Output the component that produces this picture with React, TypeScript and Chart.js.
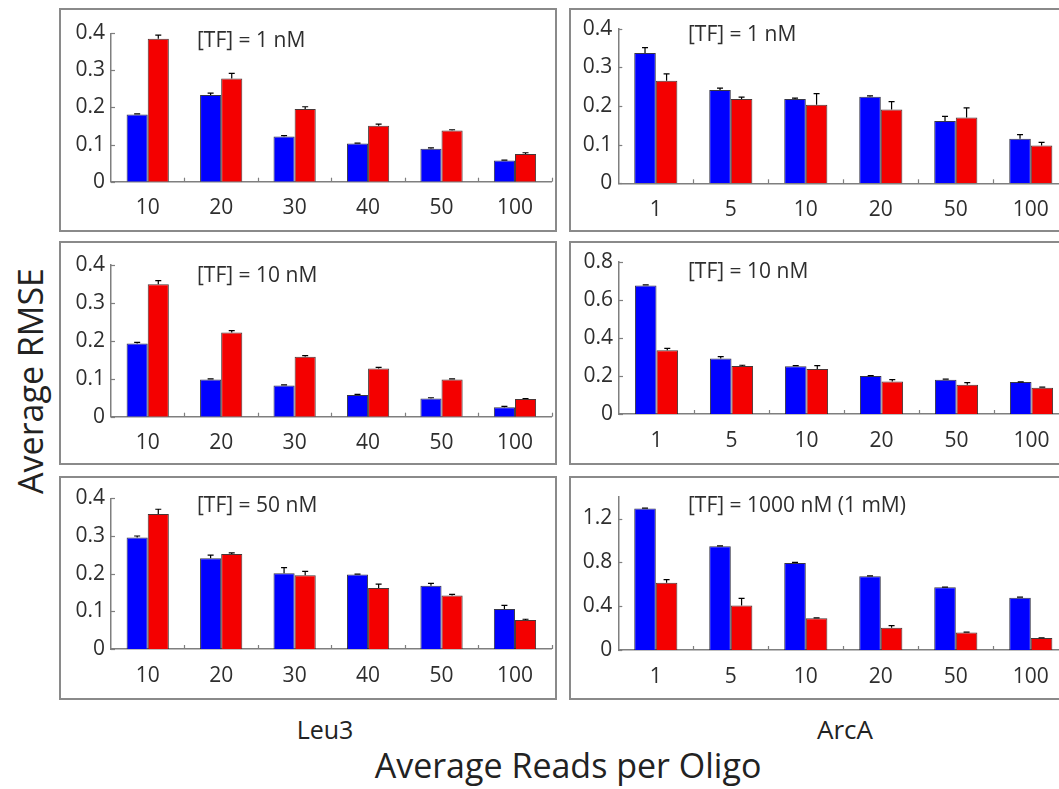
import { useEffect, useRef } from 'react';
import { Chart, registerables } from 'chart.js';

Chart.register(...registerables);

const FONT = '"Open Sans", "Noto Sans", sans-serif';
const TEXT = '#2e2e2e';
const AXIS = '#7f7f7f';
const FRAME = '#8a8a8a';
const BLUE = '#0000ff';
const RED = '#f40000';
const BORDER = 2;

// Average reads per oligo (x categories)
const leu3Reads = ['10', '20', '30', '40', '50', '100'];
const arcAReads = ['1', '5', '10', '20', '50', '100'];

// Leu3, [TF] = 1 nM
const leu3Blue1 = [0.181, 0.234, 0.122, 0.103, 0.089, 0.057];
const leu3Blue1Err = [0.002, 0.005, 0.002, 0.001, 0.002, 0.001];
const leu3Red1 = [0.385, 0.278, 0.196, 0.151, 0.138, 0.075];
const leu3Red1Err = [0.01, 0.014, 0.006, 0.004, 0.002, 0.003];

// Leu3, [TF] = 10 nM
const leu3Blue10 = [0.193, 0.098, 0.082, 0.057, 0.048, 0.025];
const leu3Blue10Err = [0.003, 0.002, 0.002, 0.002, 0.002, 0.002];
const leu3Red10 = [0.349, 0.222, 0.158, 0.127, 0.098, 0.047];
const leu3Red10Err = [0.01, 0.005, 0.003, 0.003, 0.002, 0.001];

// Leu3, [TF] = 50 nM
const leu3Blue50 = [0.296, 0.241, 0.201, 0.198, 0.168, 0.106];
const leu3Blue50Err = [0.004, 0.008, 0.015, 0.001, 0.006, 0.01];
const leu3Red50 = [0.358, 0.252, 0.196, 0.162, 0.142, 0.077];
const leu3Red50Err = [0.013, 0.003, 0.01, 0.01, 0.003, 0.002];

// ArcA, [TF] = 1 nM
const arcABlue1 = [0.337, 0.241, 0.218, 0.224, 0.161, 0.115];
const arcABlue1Err = [0.014, 0.005, 0.002, 0.002, 0.012, 0.011];
const arcARed1 = [0.265, 0.218, 0.203, 0.191, 0.17, 0.098];
const arcARed1Err = [0.018, 0.005, 0.029, 0.02, 0.025, 0.008];

// ArcA, [TF] = 10 nM
const arcABlue10 = [0.675, 0.291, 0.251, 0.2, 0.18, 0.168];
const arcABlue10Err = [0.003, 0.01, 0.003, 0.001, 0.003, 0.001];
const arcARed10 = [0.335, 0.252, 0.236, 0.17, 0.153, 0.138];
const arcARed10Err = [0.01, 0.004, 0.018, 0.01, 0.012, 0.003];

// ArcA, [TF] = 1000 nM
const arcABlue1000 = [1.292, 0.948, 0.795, 0.674, 0.572, 0.477];
const arcABlue1000Err = [0.002, 0.002, 0.005, 0.002, 0.002, 0.005];
const arcARed1000 = [0.613, 0.405, 0.289, 0.202, 0.159, 0.11];
const arcARed1000Err = [0.03, 0.066, 0.005, 0.02, 0.005, 0.002];

type Layout = {
  box: [number, number, number, number];
  axisX: number;
  zeroY: number;
  topY: number;
  plotRight: number;
  titleX: number;
  titleY: number;
};

type PanelSpec = {
  title: string;
  labels: string[];
  blue: number[];
  blueErr: number[];
  red: number[];
  redErr: number[];
  yMax: number;
  step: number;
  labelEvery: number;
  layout: Layout;
};

const panels: PanelSpec[] = [
  {
    title: '[TF] = 1 nM', labels: leu3Reads,
    blue: leu3Blue1, blueErr: leu3Blue1Err, red: leu3Red1, redErr: leu3Red1Err,
    yMax: 0.4, step: 0.1, labelEvery: 1,
    layout: { box: [59, 8, 498, 224], axisX: 111, zeroY: 181.7, topY: 33.3, plotRight: 551.7, titleX: 197, titleY: 41 },
  },
  {
    title: '[TF] = 1 nM', labels: arcAReads,
    blue: arcABlue1, blueErr: arcABlue1Err, red: arcARed1, redErr: arcARed1Err,
    yMax: 0.4, step: 0.1, labelEvery: 1,
    layout: { box: [569, 8, 505, 224], axisX: 618.3, zeroY: 183.3, topY: 24, plotRight: 1068.3, titleX: 688, titleY: 35 },
  },
  {
    title: '[TF] = 10 nM', labels: leu3Reads,
    blue: leu3Blue10, blueErr: leu3Blue10Err, red: leu3Red10, redErr: leu3Red10Err,
    yMax: 0.4, step: 0.1, labelEvery: 1,
    layout: { box: [59, 241, 498, 224], axisX: 111, zeroY: 416.7, topY: 265, plotRight: 551.7, titleX: 197, titleY: 276 },
  },
  {
    title: '[TF] = 10 nM', labels: arcAReads,
    blue: arcABlue10, blueErr: arcABlue10Err, red: arcARed10, redErr: arcARed10Err,
    yMax: 0.8, step: 0.2, labelEvery: 1,
    layout: { box: [569, 241, 505, 224], axisX: 619, zeroY: 414, topY: 255.7, plotRight: 1069, titleX: 688, titleY: 272 },
  },
  {
    title: '[TF] = 50 nM', labels: leu3Reads,
    blue: leu3Blue50, blueErr: leu3Blue50Err, red: leu3Red50, redErr: leu3Red50Err,
    yMax: 0.4, step: 0.1, labelEvery: 1,
    layout: { box: [59, 476, 498, 224], axisX: 111, zeroY: 649, topY: 498.3, plotRight: 551.7, titleX: 197, titleY: 506 },
  },
  {
    title: '[TF] = 1000 nM (1 mM)', labels: arcAReads,
    blue: arcABlue1000, blueErr: arcABlue1000Err, red: arcARed1000, redErr: arcARed1000Err,
    yMax: 1.4, step: 0.2, labelEvery: 2,
    layout: { box: [569, 476, 505, 224], axisX: 618.3, zeroY: 650, topY: 489, plotRight: 1068.3, titleX: 688, titleY: 506 },
  },
];

function formatTick(value: number, step: number, every: number): string {
  const idx = Math.round(value / step);
  if (idx % every !== 0) return '';
  const v = Math.round(value * 10) / 10;
  return v === 0 ? '0' : String(v);
}

function Panel({ spec }: { spec: PanelSpec }) {
  const ref = useRef<HTMLCanvasElement>(null);
  const { box, axisX, zeroY, topY, plotRight, titleX, titleY } = spec.layout;
  const cx = box[0] + BORDER;
  const cy = box[1] + BORDER;
  const cw = box[2] - 2 * BORDER;
  const ch = box[3] - 2 * BORDER;

  useEffect(() => {
    const errs = [spec.blueErr, spec.redErr];

    const decor = {
      id: 'panelDecor',
      afterDatasetsDraw(chart: any) {
        const ctx = chart.ctx;
        const yScale = chart.scales.y;
        ctx.save();
        ctx.strokeStyle = '#000000';
        ctx.lineWidth = 1.2;
        chart.data.datasets.forEach((ds: any, di: number) => {
          const meta = chart.getDatasetMeta(di);
          meta.data.forEach((bar: any, i: number) => {
            const e = errs[di][i];
            if (!e) return;
            const yTop = yScale.getPixelForValue(ds.data[i] + e);
            ctx.beginPath();
            ctx.moveTo(bar.x, bar.y);
            ctx.lineTo(bar.x, yTop);
            ctx.moveTo(bar.x - 3, yTop);
            ctx.lineTo(bar.x + 3, yTop);
            ctx.stroke();
          });
        });
        ctx.restore();
      },
      afterDraw(chart: any) {
        const ctx = chart.ctx;
        const area = chart.chartArea;
        const xScale = chart.scales.x;
        const yScale = chart.scales.y;
        ctx.save();
        ctx.strokeStyle = AXIS;
        ctx.lineWidth = 1.2;
        // inward ticks on the value axis
        yScale.ticks.forEach((t: any) => {
          const y = Math.round(yScale.getPixelForValue(t.value)) + 0.5;
          ctx.beginPath();
          ctx.moveTo(area.left, y);
          ctx.lineTo(area.left + 4, y);
          ctx.stroke();
        });
        // inward ticks at the category boundaries
        const n = spec.labels.length;
        for (let i = 0; i < n; i++) {
          const x = i < n - 1
            ? (xScale.getPixelForValue(i) + xScale.getPixelForValue(i + 1)) / 2
            : area.right;
          const xr = Math.round(x) + 0.5;
          ctx.beginPath();
          ctx.moveTo(xr, area.bottom);
          ctx.lineTo(xr, area.bottom - 4);
          ctx.stroke();
        }
        // condition label
        ctx.fillStyle = TEXT;
        ctx.font = `21px ${FONT}`;
        ctx.textAlign = 'left';
        ctx.textBaseline = 'middle';
        ctx.fillText(spec.title, titleX - cx, titleY - cy);
        ctx.restore();
      },
    };

    const tickFont = { family: FONT, size: 21 };

    const chart = new Chart(ref.current as HTMLCanvasElement, {
      type: 'bar',
      data: {
        labels: spec.labels,
        datasets: [
          {
            data: spec.blue,
            backgroundColor: BLUE,
            borderColor: 'rgba(20,20,40,0.85)',
            borderWidth: 1,
            categoryPercentage: 0.575,
            barPercentage: 1,
          },
          {
            data: spec.red,
            backgroundColor: RED,
            borderColor: 'rgba(40,20,20,0.85)',
            borderWidth: 1,
            categoryPercentage: 0.575,
            barPercentage: 1,
          },
        ],
      },
      options: {
        responsive: false,
        maintainAspectRatio: false,
        animation: false,
        devicePixelRatio: 1,
        layout: {
          padding: {
            left: 0,
            top: topY - cy,
            right: cx + cw - plotRight,
            bottom: 0,
          },
        },
        plugins: {
          legend: { display: false },
          tooltip: { enabled: false },
          title: { display: false },
        },
        scales: {
          x: {
            type: 'category',
            offset: true,
            grid: { display: false, drawTicks: false },
            border: { display: true, color: AXIS, width: 1.5 },
            ticks: {
              font: tickFont,
              color: TEXT,
              padding: 14,
              maxRotation: 0,
              autoSkip: false,
            },
            afterFit: (s: any) => {
              s.height = cy + ch - zeroY;
            },
          },
          y: {
            min: 0,
            max: spec.yMax,
            grid: { display: false, drawTicks: false },
            border: { display: true, color: AXIS, width: 1.5 },
            ticks: {
              stepSize: spec.step,
              font: tickFont,
              color: TEXT,
              padding: 6,
              callback: (v: any) => formatTick(Number(v), spec.step, spec.labelEvery),
            },
            afterFit: (s: any) => {
              s.width = axisX - cx;
            },
          },
        },
      },
      plugins: [decor],
    } as any);

    return () => chart.destroy();
  }, []);

  return (
    <div
      style={{
        position: 'absolute',
        left: box[0],
        top: box[1],
        width: box[2],
        height: box[3],
        border: `${BORDER}px solid ${FRAME}`,
        boxSizing: 'border-box',
        background: '#ffffff',
      }}
    >
      <canvas ref={ref} width={cw} height={ch} style={{ display: 'block', width: cw, height: ch }} />
    </div>
  );
}

function Label({ text, x, y, size, rotate }: { text: string; x: number; y: number; size: number; rotate?: boolean }) {
  return (
    <div
      style={{
        position: 'absolute',
        left: x,
        top: y,
        transform: `translate(-50%, -50%)${rotate ? ' rotate(-90deg)' : ''}`,
        fontFamily: FONT,
        fontSize: size,
        lineHeight: 1,
        color: '#222222',
        whiteSpace: 'nowrap',
      }}
    >
      {text}
    </div>
  );
}

export default function App() {
  return (
    <div
      style={{
        position: 'absolute',
        left: 0,
        top: 0,
        width: 1059,
        height: 789,
        overflow: 'hidden',
        background: '#ffffff',
      }}
    >
      {panels.map((p, i) => (
        <Panel key={i} spec={p} />
      ))}
      <Label text="Average RMSE" x={30} y={381} size={34} rotate />
      <Label text="Leu3" x={325} y={729} size={25} />
      <Label text="ArcA" x={845} y={729} size={26} />
      <Label text="Average Reads per Oligo" x={568} y={765} size={34} />
    </div>
  );
}
